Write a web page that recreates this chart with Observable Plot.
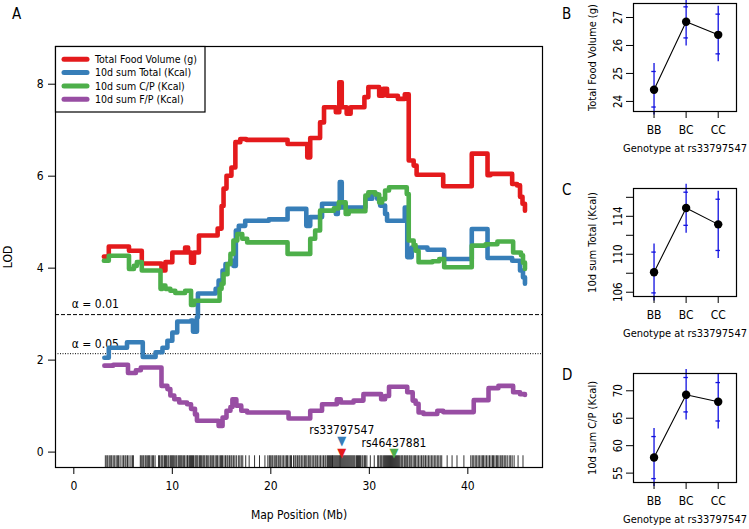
<!DOCTYPE html>
<html><head><meta charset="utf-8">
<script src="https://cdn.jsdelivr.net/npm/d3@7"></script>
<script src="https://cdn.jsdelivr.net/npm/@observablehq/plot@0.6"></script>
<style>
body{margin:0;background:#fff;}
#root{position:relative;width:749px;height:529px;overflow:hidden;}
.pane{position:absolute;}
</style></head><body><div id="root"></div>
<script>
const FONT = '"DejaVu Sans Condensed","Liberation Sans",sans-serif';

// ---------- Panel A data ----------
const seriesNames = ["Total Food Volume (g)", "10d sum Total (Kcal)", "10d sum C/P (Kcal)", "10d sum F/P (Kcal)"];
const seriesColors = ["#E41A1C", "#377EB8", "#4DAF4A", "#984EA3"];

const redPos = [3.05,3.55,5.6,6.9,8.9,9.3,10.0,11.3,11.6,11.9,12.2,12.7,14.6,15.0,15.2,15.5,16.0,16.4,16.9,17.5,21.7,23.7,24.0,25.0,25.4,26.6,26.95,27.2,27.7,28.1,29.5,29.9,31.0,31.4,31.8,32.9,33.6,34.0,34.5,34.8,37.5,40.4,42.0,42.3,44.5,45.0,45.3,45.55,45.8];
const redLod = [4.25,4.47,4.38,4.10,3.95,4.13,4.34,4.45,4.34,4.12,4.34,4.71,4.86,5.35,5.73,6.01,6.19,6.74,6.81,6.79,6.70,6.41,6.83,7.17,7.50,7.39,8.04,7.50,7.36,7.50,7.72,7.94,7.75,7.90,7.75,7.68,7.78,6.34,6.23,6.03,5.78,6.49,6.02,6.05,5.83,5.80,5.55,5.40,5.25];

const bluePos = [3.1,3.55,5.4,7.0,8.3,9.0,9.5,10.0,10.5,11.9,12.1,12.5,12.6,14.4,14.7,15.1,15.4,15.9,16.2,16.45,16.75,17.4,19.8,21.7,23.6,24.0,25.2,26.6,26.8,27.0,27.2,29.6,30.3,30.8,31.1,31.6,31.8,33.6,33.85,34.3,35.9,37.6,40.4,42.0,44.5,45.3,45.6,45.8];
const blueLod = [2.05,2.27,2.39,2.07,2.17,2.27,2.42,2.60,2.84,2.86,2.62,2.93,3.45,3.55,3.73,3.95,4.09,4.16,4.05,4.82,4.92,5.03,5.06,5.29,4.92,5.11,5.40,5.18,5.40,5.87,5.32,5.51,5.61,5.51,5.36,5.18,5.03,5.32,4.24,4.45,4.40,4.20,4.85,4.22,4.16,3.95,3.80,3.66];

const greenPos = [3.05,3.55,5.6,6.1,6.4,6.9,8.8,9.0,9.3,9.8,10.3,11.3,11.9,12.2,14.8,15.0,15.2,15.6,15.9,16.2,16.6,17.1,17.6,21.7,24.0,24.5,25.0,26.4,26.9,27.6,27.9,29.6,29.9,30.6,31.0,31.3,31.6,32.0,33.8,34.0,34.5,34.7,35.0,36.4,37.1,37.6,40.4,41.8,43.0,44.6,45.4,45.6,45.8];
const greenLod = [4.16,4.27,3.98,4.05,4.13,3.95,3.55,3.62,3.55,3.51,3.46,3.51,3.20,3.29,3.55,3.66,3.87,4.09,4.31,4.60,4.74,4.64,4.56,4.31,4.64,4.82,5.25,5.30,5.43,5.18,5.24,5.58,5.65,5.60,5.43,5.50,5.69,5.76,5.61,4.60,4.50,4.38,4.13,4.15,4.20,4.02,4.49,4.52,4.58,4.34,4.28,4.12,3.98];

const purplePos = [3.1,4.0,5.5,6.3,6.8,8.7,8.9,9.5,9.8,10.2,10.7,11.5,11.9,12.3,12.5,14.7,15.1,15.5,15.9,16.1,16.5,17.0,17.6,21.8,24.0,25.2,26.7,27.1,28.4,29.4,31.2,31.6,32.0,33.85,34.4,34.7,35.0,35.5,36.9,37.5,40.6,42.1,43.1,44.6,45.3,45.8];
const purpleLod = [1.88,1.90,1.72,1.78,1.84,1.84,1.44,1.37,1.23,1.15,1.08,1.04,0.94,0.82,0.68,0.57,0.75,0.90,0.98,1.15,1.01,0.90,0.86,0.73,0.90,1.04,1.15,1.08,1.12,1.26,1.15,1.22,1.42,1.30,1.12,1.05,0.86,0.83,0.90,0.87,1.13,1.39,1.44,1.30,1.26,1.24];

const markerPos = [3.2,3.35,3.45,3.6,3.75,3.85,4.0,4.15,4.3,4.45,4.55,4.7,4.9,5.05,5.2,5.3,5.45,5.6,5.8,5.95,6.05,
 6.75,6.85,7.0,7.1,7.25,7.35,7.5,7.6,7.7,7.85,8.0,8.1,8.25,
 8.6,8.7,8.85,8.95,9.05,9.2,9.3,9.4,9.55,9.65,9.8,9.9,10.0,10.1,10.2,10.35,10.45,10.6,10.7,10.8,10.9,11.0,11.15,11.25,11.4,11.55,11.6,11.75,11.85,11.95,12.05,12.15,12.3,12.4,12.5,12.6,12.75,12.85,12.95,13.1,13.2,13.3,13.45,13.55,13.7,13.85,13.95,14.1,14.2,14.35,14.5,14.6,14.75,14.9,15.0,15.1,15.25,15.4,15.55,15.65,15.8,15.95,16.05,16.2,16.35,16.5,16.7,16.85,17.0,17.15,
 17.45,17.8,18.35,18.85,19.4,
 19.7,19.85,19.95,20.1,20.2,20.35,20.5,20.6,20.75,20.85,21.0,21.15,21.3,21.45,21.6,21.7,21.85,22.0,22.1,22.3,22.45,22.55,22.7,22.85,22.95,23.1,23.25,23.4,23.5,23.65,23.8,23.9,24.05,24.2,24.35,24.5,24.6,24.75,24.9,25.05,25.2,25.35,25.5,25.6,
 25.75,25.85,25.95,26.05,26.15,26.25,26.3,26.4,26.5,26.6,26.7,26.8,26.9,27.0,27.05,27.15,27.25,27.35,27.45,27.55,27.65,27.75,27.85,27.95,28.05,28.15,28.25,28.35,28.45,28.55,28.7,28.8,28.9,29.0,29.1,29.25,29.35,29.5,29.6,29.75,
 30.1,30.5,
 30.85,30.95,31.1,31.2,31.3,31.45,31.55,31.65,31.75,31.85,31.95,32.05,32.15,32.25,32.35,32.45,32.55,32.65,32.75,32.85,32.95,33.05,33.2,33.3,33.4,33.55,33.65,33.8,33.9,34.05,34.15,34.3,34.45,34.6,34.7,34.85,35.0,35.15,35.3,35.45,35.55,35.7,35.85,36.0,36.15,36.3,36.45,36.6,36.75,36.9,37.05,37.2,37.35,
 37.9,38.4,38.9,39.6,
 40.3,40.45,40.6,40.75,40.9,41.05,41.2,41.35,41.5,41.6,41.75,41.9,42.05,42.2,42.35,42.5,42.6,42.75,42.9,43.0,43.15,43.3,43.45,43.55,43.7,43.85,44.0,44.2,44.35,44.5,44.7,45.1,45.6];

const thresholds = [2.99, 2.14];
const thresholdLabels = ["\u03B1 = 0.01", "\u03B1 = 0.05"];
const snpNames = ["rs33797547", "rs46437881"];
const snpPos = [27.2, 32.5];
const snpLabelLod = [0.485, 0.20];
// triangles: series index, snp index, LOD height
const snpTriangles = [{s: 1, snp: 0, lod: 0.24}, {s: 0, snp: 0, lod: -0.01}, {s: 2, snp: 1, lod: -0.01}];
const xTicksA = [0, 10, 20, 30, 40];
const yTicksA = [0, 2, 4, 6, 8];

// ---------- Panels B-D data ----------
const genotypes = ["BB", "BC", "CC"];
const foodMean = [24.42, 26.85, 26.38], foodUp = [25.07, 27.38, 27.12], foodLo = [23.80, 26.27, 25.70];
const totalMean = [108.1, 114.88, 113.15], totalUp = [110.23, 116.54, 115.8], totalLo = [105.93, 113.05, 110.4];
const cpMean = [57.84, 69.27, 68.0], cpUp = [61.66, 72.42, 71.5], cpLo = [54.0, 66.15, 64.5];

// ---------- build ----------
const root = document.getElementById("root");
function place(el, left, top) {
  const d = document.createElement("div");
  d.className = "pane"; d.style.left = left + "px"; d.style.top = top + "px";
  d.appendChild(el); root.appendChild(d);
}

const allPos = [redPos, bluePos, greenPos, purplePos];
const allLod = [redLod, blueLod, greenLod, purpleLod];
const lodData = allPos.flatMap((p, s) => p.map((x, i) => ({series: seriesNames[s], pos: x, lod: allLod[s][i]})));

const lineMarks = seriesNames.map((name, s) =>
  Plot.line(lodData.filter(d => d.series === name), {x: "pos", y: "lod", stroke: seriesColors[s], strokeWidth: 4.6, curve: "step-after", strokeLinejoin: "round", strokeLinecap: "round"}));

const xDomA = [-1.86, 47.58], yDomA = [-0.335, 8.82];
const rugTop = -0.08;

const plotA = Plot.plot({
  width: 560, height: 529,
  marginLeft: 55, marginRight: 18, marginTop: 46, marginBottom: 62,
  x: {domain: xDomA}, y: {domain: yDomA},
  style: {fontFamily: FONT, fontSize: "12px", background: "transparent", color: "black"},
  marks: [
    Plot.ruleX(markerPos, {x: d => d, y1: yDomA[0], y2: rugTop, stroke: "black", strokeWidth: 0.8}),
    Plot.ruleY([thresholds[0]], {stroke: "black", strokeWidth: 1, strokeDasharray: "4,2"}),
    Plot.ruleY([thresholds[1]], {stroke: "black", strokeWidth: 1, strokeDasharray: "1,1.5"}),
    Plot.text(thresholds, {x: 0, y: d => d, dy: -10, dx: -2, text: (d, i) => thresholdLabels[i], textAnchor: "start", fontSize: 12}),
    ...lineMarks,
    Plot.text(snpTriangles, {x: d => snpPos[d.snp], y: "lod", text: () => "\u25BC", fill: d => seriesColors[d.s], fontSize: 13}),
    Plot.text(snpNames, {x: (d, i) => snpPos[i], y: (d, i) => snpLabelLod[i], text: d => d, fontSize: 12}),
    Plot.frame({stroke: "black", strokeWidth: 1.2}),
    Plot.axisX({ticks: xTicksA, tickSize: 7, tickFormat: () => "", label: null}),
    Plot.text(xTicksA, {x: d => d, frameAnchor: "bottom", dy: 22, text: d => String(d), fontSize: 12, textAnchor: "middle"}),
    Plot.text(["Map Position (Mb)"], {frameAnchor: "bottom", dy: 51, fontSize: 12, textAnchor: "middle"}),
    Plot.axisY({ticks: yTicksA, tickSize: 7, tickPadding: 5, fontSize: 12, label: null}),
    Plot.text(["LOD"], {frameAnchor: "left", dx: -47, rotate: -90, fontSize: 12, textAnchor: "middle"})
  ]
});
place(plotA, 0, 0);

function smallPanel({mean, up, lo, yDom, yTicks, yLabels, yTitle, height, mt, mb}) {
  const rows = genotypes.map((g, i) => ({i: i + 1, g, mean: mean[i], up: up[i], lo: lo[i]}));
  return Plot.plot({
    width: 189, height,
    marginLeft: 73, marginRight: 13, marginTop: mt, marginBottom: mb,
    x: {domain: [0.36, 3.57]}, y: {domain: yDom},
    style: {fontFamily: FONT, fontSize: "11px", background: "transparent", color: "black"},
    marks: [
      Plot.ruleX(rows, {x: "i", y1: "mean", y2: "up", insetBottom: 8, stroke: "#1010e0", strokeWidth: 1.3}),
      Plot.ruleX(rows, {x: "i", y1: "lo", y2: "mean", insetTop: 8, stroke: "#1010e0", strokeWidth: 1.3}),
      Plot.ruleY(rows, {y: "up", x1: d => d.i - 0.07, x2: d => d.i + 0.07, stroke: "#1010e0", strokeWidth: 1.3}),
      Plot.ruleY(rows, {y: "lo", x1: d => d.i - 0.07, x2: d => d.i + 0.07, stroke: "#1010e0", strokeWidth: 1.3}),
      Plot.line(rows, {x: "i", y: "mean", stroke: "black", strokeWidth: 1.1}),
      Plot.dot(rows, {x: "i", y: "mean", r: 4.2, fill: "black"}),
      Plot.frame({stroke: "black", strokeWidth: 1.2}),
      Plot.axisX({ticks: [1, 2, 3], tickSize: 7, tickFormat: () => "", label: null}),
      Plot.text(rows, {x: "i", frameAnchor: "bottom", dy: 22, text: "g", fontSize: 12, textAnchor: "middle"}),
      Plot.text(["Genotype at " + snpNames[0]], {frameAnchor: "bottom", dy: 40, fontSize: 11, textAnchor: "middle"}),
      Plot.axisY({ticks: yTicks, tickSize: 7, tickFormat: () => "", label: null}),
      Plot.text(yLabels, {y: d => d, frameAnchor: "left", dx: -15, rotate: -90, text: d => String(d), fontSize: 11.5, textAnchor: "middle"}),
      Plot.text([yTitle], {frameAnchor: "left", dx: -41, rotate: -90, fontSize: 11, textAnchor: "middle"})
    ]
  });
}

place(smallPanel({mean: foodMean, up: foodUp, lo: foodLo, yDom: [23.64, 27.5], yTicks: [24, 25, 26, 27], yLabels: [24, 25, 26, 27], yTitle: "Total Food Volume (g)", height: 170, mt: 3, mb: 59}), 560, 0);
place(smallPanel({mean: totalMean, up: totalUp, lo: totalLo, yDom: [105.55, 116.93], yTicks: [106, 108, 110, 112, 114, 116], yLabels: [106, 110, 114], yTitle: "10d sum Total (Kcal)", height: 170, mt: 18, mb: 44}), 560, 170);
place(smallPanel({mean: cpMean, up: cpUp, lo: cpLo, yDom: [53.29, 73.15], yTicks: [55, 60, 65, 70], yLabels: [55, 60, 65, 70], yTitle: "10d sum C/P (Kcal)", height: 189, mt: 33, mb: 47}), 560, 340);

// ---------- overlay: legend and panel letters ----------
const ov = d3.select("#root").append("svg")
  .attr("width", 749).attr("height", 529)
  .style("position", "absolute").style("left", 0).style("top", 0)
  .style("font-family", FONT);
const lg = ov.append("g");
lg.append("rect").attr("x", 55.5).attr("y", 46.5).attr("width", 149.5).attr("height", 65.5)
  .attr("fill", "white").attr("stroke", "black").attr("stroke-width", 1.2);
seriesNames.forEach((name, i) => {
  const y = 59.3 + i * 13.3;
  lg.append("line").attr("x1", 64).attr("x2", 87).attr("y1", y).attr("y2", y)
    .attr("stroke", seriesColors[i]).attr("stroke-width", 5).attr("stroke-linecap", "round");
  lg.append("text").attr("x", 95).attr("y", y + 3.8).attr("font-size", 10.5).text(name);
});
const letters = [["A", 12, 18.5], ["B", 562, 18.5], ["C", 562, 195], ["D", 562, 380]];
letters.forEach(([t, x, y]) => ov.append("text").attr("x", x).attr("y", y).attr("font-size", 15).text(t));
</script>
</body></html>
